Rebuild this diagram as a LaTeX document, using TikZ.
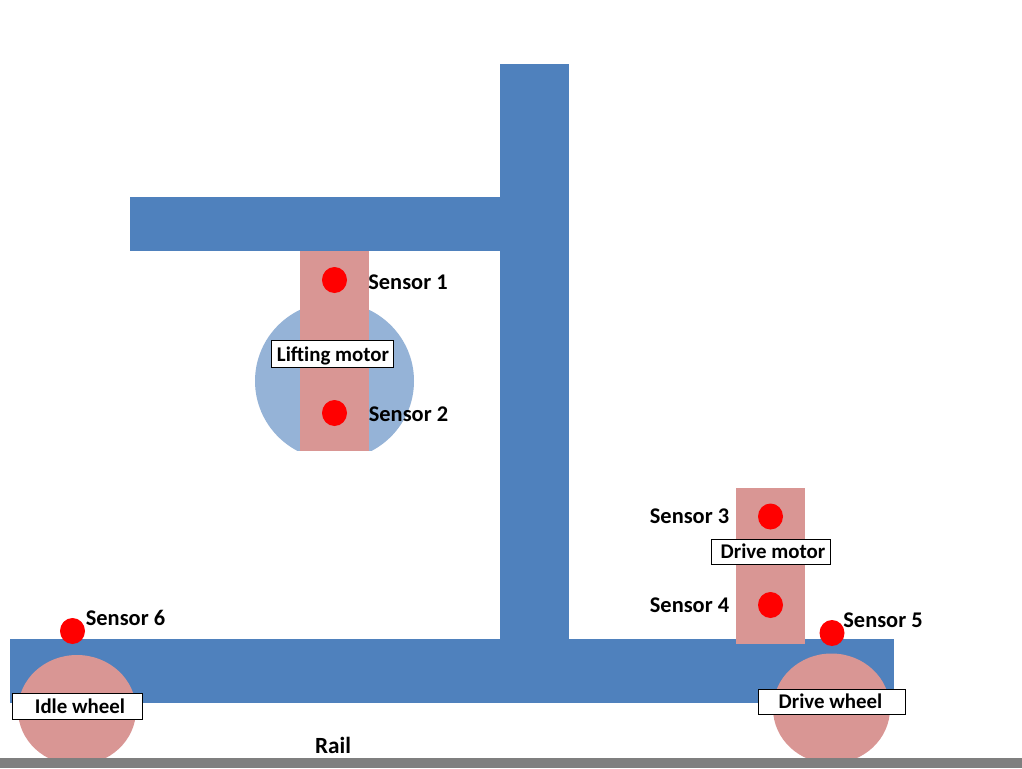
\documentclass[tikz,border=0pt]{standalone}
\usepackage{fontspec}
\setmainfont{Carlito}
\definecolor{barblue}{HTML}{4F81BD}
\definecolor{lightblue}{HTML}{95B3D7}
\definecolor{pinkish}{HTML}{D99694}
\definecolor{railgray}{HTML}{7F7F7F}
\usetikzlibrary{shapes.geometric}
\tikzset{
  bar/.style={fill=barblue,draw=none},
  pinkpart/.style={fill=pinkish,draw=none},
  sensordot/.style={fill=red,draw=none,ellipse,inner sep=0pt,minimum width=25pt,minimum height=26pt},
  lab/.style={font=\fontsize{22.4}{24}\selectfont\bfseries,text=black,inner sep=0pt,anchor=center},
  raillab/.style={font=\fontsize{23.2}{26}\selectfont\bfseries,text=black,inner sep=0pt,anchor=center},
  labbox/.style={font=\fontsize{20.9}{24}\selectfont\bfseries,text=black,draw=black,line width=1pt,fill=white,inner sep=0pt,anchor=center,text height=16pt,text depth=2pt},
}
\begin{document}
\begin{tikzpicture}[x=1pt,y=-1pt]
\useasboundingbox (0,0) rectangle (1022,768);
\fill[white] (0,0) rectangle (1022,768);
% frame
\fill[bar] (500,64) rectangle (569,660);
\fill[bar] (130,197) rectangle (520,251);
\fill[bar] (10,639) rectangle (894,703);
% lifting motor
\begin{scope}
\clip (240,290) rectangle (430,450.5);
\fill[lightblue] (334.5,381) ellipse [x radius=79.5,y radius=79];
\end{scope}
\fill[pinkpart] (300,251) rectangle (369,450.5);
% drive motor
\fill[pinkpart] (736,488) rectangle (805,644);
% wheels
\fill[pinkpart] (77,710) ellipse [x radius=59,y radius=55];
\fill[pinkpart] (831.5,708.5) ellipse [x radius=58.5,y radius=55];
% rail
\fill[railgray] (0,758) rectangle (1022,768);
% sensors
\node[sensordot] (s1) at (334.5,280) {};
\node[sensordot] (s2) at (334.5,413) {};
\node[sensordot] (s3) at (770.5,516.5) {};
\node[sensordot] (s4) at (770.5,605) {};
\node[sensordot] (s5) at (832,633) {};
\node[sensordot] (s6) at (72.5,631) {};
% sensor labels
\node[lab] (t1) at (408,282) {Sensor 1};
\node[lab] (t2) at (408.5,414) {Sensor 2};
\node[lab] (t3) at (689.5,516) {Sensor 3};
\node[lab] (t4) at (689.5,605) {Sensor 4};
\node[lab] (t5) at (883,620) {Sensor 5};
\node[lab] (t6) at (125.5,618) {Sensor 6};
% boxed labels
\node[labbox,minimum width=122pt,minimum height=27pt] (b1) at (332.5,354) {\hspace*{1pt}Lifting motor};
\node[labbox,minimum width=130pt,minimum height=26pt] (b2) at (77.5,706) {\hspace*{5pt}Idle wheel};
\node[labbox,minimum width=119pt,minimum height=25pt] (b3) at (771,551.5) {\hspace*{4pt}Drive motor};
\node[labbox,minimum width=147pt,minimum height=25pt] (b4) at (832,701.5) {\hspace*{-3pt}Drive wheel};
\node[raillab] (rail) at (333,745) {Rail};
\end{tikzpicture}
\end{document}
